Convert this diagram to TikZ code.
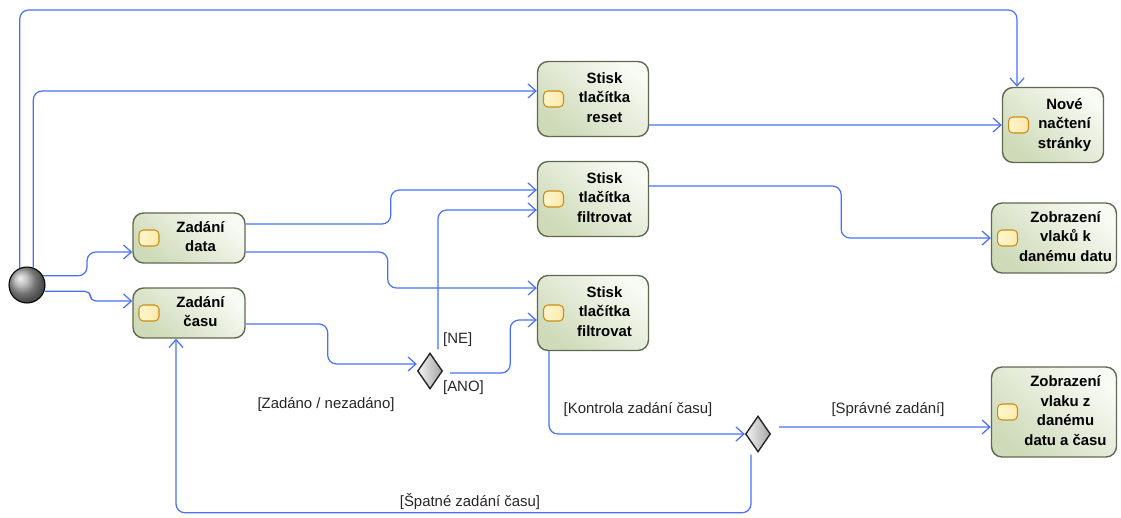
\documentclass[tikz,border=0pt]{standalone}
\usepackage{fontspec}
\setmainfont{Liberation Sans}
\usetikzlibrary{arrows.meta,shapes.geometric}

\definecolor{flowblue}{RGB}{72,112,255}
\definecolor{actline}{RGB}{95,105,80}
\definecolor{actlight}{RGB}{248,250,244}
\definecolor{actdark}{RGB}{206,218,184}
\definecolor{iconlight}{RGB}{255,250,215}
\definecolor{icondark}{RGB}{238,180,35}
\definecolor{iconline}{RGB}{205,140,20}

% action text, pushed right of the little icon
\newcommand\acttext[1]{\hspace*{0.46cm}\begin{tabular}{@{}c@{}}#1\end{tabular}}

\begin{document}
\begin{tikzpicture}[x=0.02cm, y=-0.02cm, >={Straight Barb[length=4.5pt,width=8pt]},
  act/.style={draw=actline, line width=0.8pt, rounded corners=6pt, top color=actlight, bottom color=actdark,
    shading angle=-40, inner sep=1pt, font=\fontsize{8.5}{11.3}\selectfont\bfseries,
    path picture={\path[draw=iconline, left color=iconlight, right color=icondark, rounded corners=2.5pt, line width=0.6pt]
      ([xshift=0.12cm,yshift=-0.16cm]path picture bounding box.west) rectangle ++(0.4cm,0.32cm);}},
  dec/.style={diamond, draw=gray!30!black, line width=0.8pt, left color=gray!10, right color=gray!70,
    minimum width=0.5cm, minimum height=0.72cm, inner sep=0pt, aspect=0.7},
  start/.style={circle, draw=black, line width=0.6pt, ball color=gray!70, minimum size=0.72cm, inner sep=0pt},
  flow/.style={->, draw=flowblue, line width=0.7pt, rounded corners=5pt},
  guard/.style={font=\fontsize{8.5}{10}\selectfont, text=black!85, inner sep=1pt}]
  \useasboundingbox (0,0) rectangle (1121,517);

  \node[start] (init) at (27,285) {};
  \node[act, minimum width=2.24cm, minimum height=1cm] (data) at (189,238) {\acttext{Zadání\\data}};
  \node[act, minimum width=2.24cm, minimum height=1cm] (cas) at (189,313) {\acttext{Zadání\\času}};
  \node[act, minimum width=2.22cm, minimum height=1.5cm] (reset) at (593,99) {\acttext{Stisk\\tlačítka\\reset}};
  \node[act, minimum width=2.22cm, minimum height=1.5cm] (filtA) at (593,199) {\acttext{Stisk\\tlačítka\\filtrovat}};
  \node[act, minimum width=2.22cm, minimum height=1.5cm] (filtB) at (593,313) {\acttext{Stisk\\tlačítka\\filtrovat}};
  \node[act, minimum width=2.02cm, minimum height=1.5cm] (reload) at (1053,125) {\acttext{Nové\\načtení\\stránky}};
  \node[act, minimum width=2.5cm, minimum height=1.4cm] (trains) at (1054,238) {\acttext{Zobrazení\\vlaků k\\danému datu}};
  \node[act, minimum width=2.5cm, minimum height=1.8cm] (train) at (1054,412) {\acttext{Zobrazení\\vlaku z\\danému\\datu a času}};
  \node[dec] (chkA) at (430,371) {};
  \node[dec] (chkB) at (758,434) {};
  \coordinate (top) at (500,10);

  \draw[flow] (init.113) |- (top) -| ([xshift=-0.72cm]reload.north);
  \draw[flow] (init.70) |- ([yshift=0.16cm]reset.west);
  \draw[flow] (init.30) -- ++(44,0) |- ([yshift=-0.28cm]data.west);
  \draw[flow, rounded corners=3pt] (init.-20) -- ++(46,0) |- ([yshift=0.24cm]cas.west);
  \draw[flow] ([yshift=0.28cm]data.east) -- ++(145,0) |- ([yshift=0.18cm]filtA.west);
  \draw[flow] ([yshift=-0.28cm]data.east) -- ++(142,0) |- ([yshift=0.5cm]filtB.west);
  \draw[flow] ([yshift=-0.22cm]cas.east) -- ++(82,0) |- ([yshift=0.14cm]chkA.west);
  \draw[flow] ([xshift=0.16cm,yshift=0.06cm]chkA.north) |- ([yshift=-0.22cm]filtA.west);
  \draw[flow] ([xshift=0.14cm,yshift=-0.04cm]chkA.east) -- ++(60,0) |- ([yshift=-0.14cm]filtB.west);
  \draw[flow] ([xshift=-0.88cm]filtB.south) |- (chkB.west);
  \draw[flow] ([xshift=0.16cm,yshift=0.14cm]chkB.east) -- ([yshift=-0.3cm]train.west);
  \draw[flow] ([xshift=-0.14cm,yshift=-0.04cm]chkB.south) -- ++(0,58) -| ([xshift=-0.26cm]cas.south);
  \draw[flow] ([yshift=-0.52cm]reset.east) -- (reload.west);
  \draw[flow] ([yshift=0.26cm]filtA.east) -- ++(192,0) |- (trains.west);

  % guards
  \node[guard] (gset) at (326,405) {[Zadáno / nezadáno]};
  \node[guard, anchor=west] (gno) at (441,340) {[NE]};
  \node[guard, anchor=west] (gyes) at (441,388) {[ANO]};
  \node[guard] (gcheck) at (638,410) {[Kontrola zadání času]};
  \node[guard] (gok) at (888,410) {[Správné zadání]};
  \node[guard] (gbad) at (470,502) {[Špatné zadání času]};
\end{tikzpicture}
\end{document}
